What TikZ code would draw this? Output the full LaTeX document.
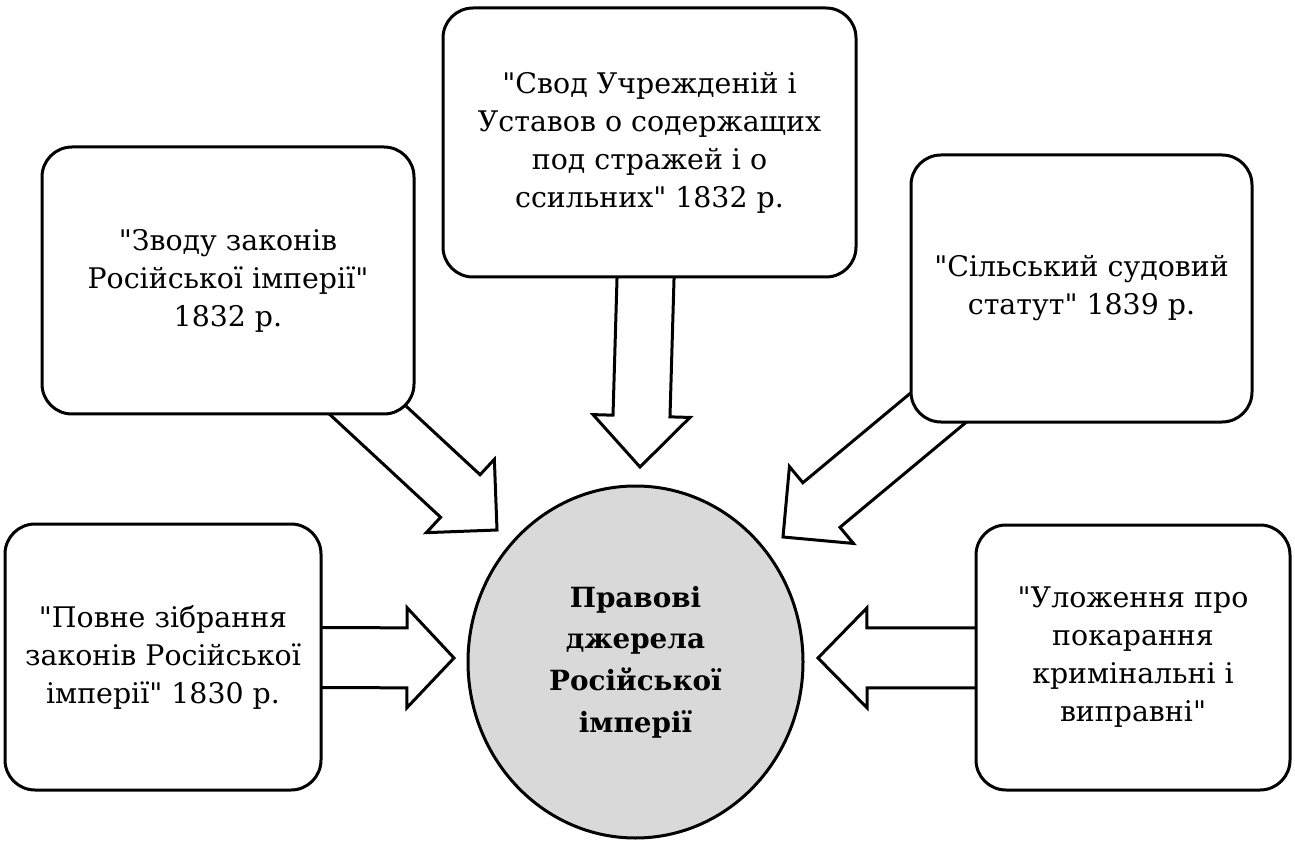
\documentclass[tikz,border=0pt]{standalone}
\usepackage{fontspec}
\setmainfont{DejaVu Serif}[Ligatures=TeXOff]
\usetikzlibrary{calc,shapes.geometric}
\pgfdeclarelayer{bg}
\pgfsetlayers{bg,main}
% #1 start, #2 tip, #3 shaft half width, #4 head half width, #5 head length
\newcommand\blockarr[5]{%
  \path ($(#2)!#5!(#1)$) coordinate (ba-h);
  \draw[blockarrow] ($(#1)!#3!90:(#2)$) -- ($(ba-h)!#3!90:(#2)$) -- ($(ba-h)!#4!90:(#2)$)
    -- (#2) -- ($(ba-h)!#4!-90:(#2)$) -- ($(ba-h)!#3!-90:(#2)$) -- ($(#1)!#3!-90:(#2)$) -- cycle;
}
\begin{document}
\begin{tikzpicture}[x=0.5pt,y=-0.5pt,
  box/.style={draw, line width=1.5pt, rounded corners=15pt, fill=white, align=center,
    inner sep=0pt, font=\rmfamily\fontsize{14.2}{19}\selectfont},
  hub/.style={ellipse, draw, line width=1.5pt, fill=gray!30, align=center, inner sep=0pt,
    font=\rmfamily\fontsize{13.9}{20.8}\selectfont\bfseries},
  blockarrow/.style={draw, line width=1.5pt, fill=white, line join=miter}]
\useasboundingbox (0,0) rectangle (1295,844);

\node[box, minimum width=186pt, minimum height=133.5pt] (tl) at (228,280.5)
  {"Зводу законів\\Російської імперії"\\1832 р.};
\node[box, minimum width=206.5pt, minimum height=134.5pt] (tm) at (649.5,142.5)
  {"Свод Учрежденій і\\Уставов о содержащих\\под стражей і о\\ссильних" 1832 р.};
\node[box, minimum width=170.5pt, minimum height=133.5pt] (tr) at (1081.5,288.5)
  {"Сільський судовий\\статут" 1839 р.};
\node[box, minimum width=158pt, minimum height=133pt] (bl) at (163,657)
  {"Повне зібрання\\законів Російської\\імперії" 1830 р.};
\node[box, minimum width=157pt, minimum height=132.5pt] (br) at (1133,657.5)
  {"Уложення про\\покарання\\кримінальні і\\виправні"};

\node[hub, minimum width=167.5pt, minimum height=176pt] (hub) at (635.5,662)
  {Правові\\джерела\\Російської\\імперії};

\coordinate (tipL) at (454,658);
\coordinate (tipR) at (818,658);
\coordinate (tipD) at (640,467);
\coordinate (tipTL) at (497,530);
\coordinate (tipTR) at (783,537);

\begin{pgfonlayer}{bg}
  \blockarr{bl.center}{tipL}{15pt}{25pt}{23.5pt}
  \blockarr{br.center}{tipR}{15pt}{25pt}{24.5pt}
  \blockarr{tm.center}{tipD}{14.25pt}{24.25pt}{25.5pt}
  \blockarr{tl.center}{tipTL}{14.5pt}{25pt}{25pt}
  \blockarr{tr.center}{tipTR}{14.5pt}{25pt}{25pt}
\end{pgfonlayer}
\end{tikzpicture}
\end{document}
